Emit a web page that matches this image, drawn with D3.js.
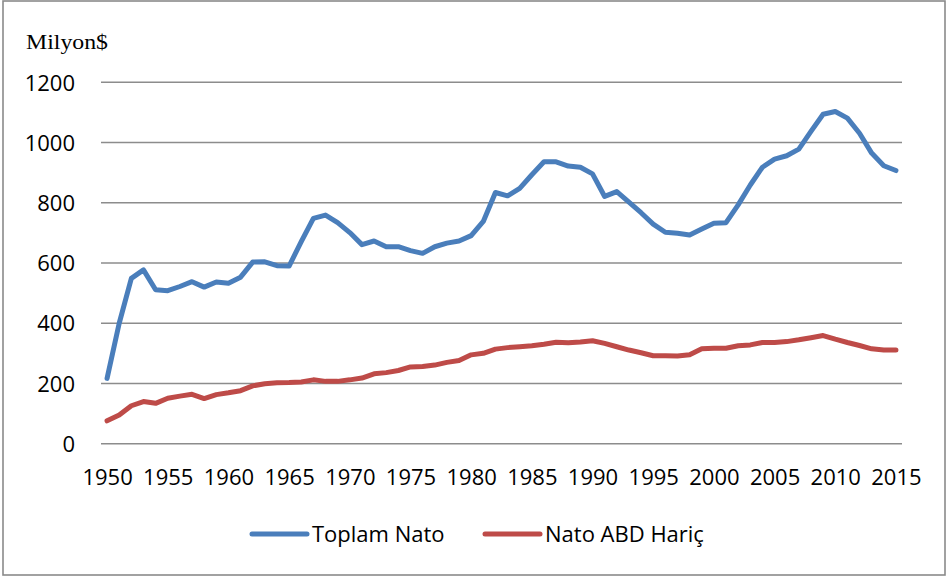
<!DOCTYPE html>
<html>
<head>
<meta charset="utf-8">
<script src="https://cdn.jsdelivr.net/npm/d3@7"></script>
<style>
  body { margin: 0; background: #fff; }
  svg { display: block; }
</style>
</head>
<body>
<svg id="chart" width="948" height="578"></svg>
<script>
// years on the category axis
var years = d3.range(1950, 2016);

// Toplam Nato
var toplamNato = [
  217, 400, 549, 577, 511, 508, 522, 538, 520, 537,
  533, 553, 603, 604, 591, 590, 671, 748, 759, 734,
  701, 661, 673, 654, 654, 641, 632, 654, 666, 673,
  691, 738, 834, 823, 848, 893, 936, 936, 922, 918,
  896, 821, 837, 802, 767, 729, 702, 699, 693, 713,
  732, 734, 793, 859, 918, 945, 956, 978, 1037, 1094,
  1103, 1081, 1031, 965, 923, 907
];

// Nato ABD Hariç
var natoAbdHaric = [
  76, 95, 126, 140, 134, 151, 158, 164, 150, 163,
  169, 176, 192, 199, 202, 203, 205, 212, 207, 207,
  212, 218, 232, 236, 243, 255, 256, 261, 270, 276,
  295, 300, 314, 319, 322, 325, 330, 337, 335, 338,
  342, 333, 322, 311, 302, 292, 292, 291, 295, 315,
  317, 317, 325, 328, 336, 336, 339, 345, 352, 359,
  347, 336, 326, 315, 311, 311
];

var yTicks = [0, 200, 400, 600, 800, 1000, 1200];
var xTickYears = years.filter(function(y) { return (y - 1950) % 5 === 0; });

var seriesNames = ['Toplam Nato', 'Nato ABD Hariç'];
var seriesColors = ['#4a7ebb', '#be4b48'];

var svg = d3.select('#chart');

// outer frame
svg.append('rect')
  .attr('x', 3).attr('y', 1)
  .attr('width', 942).attr('height', 574)
  .attr('fill', '#fff')
  .attr('stroke', '#8a8a8a')
  .attr('stroke-width', 1.6);

var plot = {l: 101, r: 902, t: 82.3, b: 443.7};

var xScale = d3.scalePoint()
  .domain(years)
  .range([plot.l, plot.r])
  .padding(0.5);

var yScale = d3.scaleLinear()
  .domain([0, 1200])
  .range([plot.b, plot.t]);

// gridlines
svg.append('g')
  .selectAll('line')
  .data(yTicks)
  .enter()
  .append('line')
  .attr('x1', plot.l)
  .attr('x2', plot.r)
  .attr('y1', d => yScale(d))
  .attr('y2', d => yScale(d))
  .attr('stroke', '#8c8c8c')
  .attr('stroke-width', 1.4);

// y axis labels
var yAxis = d3.axisLeft(yScale).tickValues(yTicks).tickFormat(d3.format('d')).tickSize(0).tickPadding(0);
var yAxisG = svg.append('g')
  .attr('transform', 'translate(75,0)')
  .call(yAxis);
yAxisG.select('.domain').remove();
yAxisG.selectAll('text')
  .attr('x', 0)
  .attr('dy', '0.35em')
  .style('font-family', '"Open Sans", "Liberation Sans", sans-serif')
  .style('font-size', '22px')
  .style('fill', '#000');

// x axis labels
var xAxis = d3.axisBottom(xScale).tickValues(xTickYears).tickSize(0).tickPadding(0);
var xAxisG = svg.append('g')
  .attr('transform', 'translate(0,' + plot.b + ')')
  .call(xAxis);
xAxisG.select('.domain').remove();
xAxisG.selectAll('text')
  .attr('y', 34)
  .attr('dy', '0.35em')
  .style('font-family', '"Open Sans", "Liberation Sans", sans-serif')
  .style('font-size', '22px')
  .style('fill', '#000');

// unit label
svg.append('text')
  .attr('x', 26)
  .attr('y', 48.5)
  .attr('textLength', 82)
  .attr('lengthAdjust', 'spacingAndGlyphs')
  .style('font-family', '"Liberation Serif", "Times New Roman", serif')
  .style('font-size', '20px')
  .style('fill', '#000')
  .text('Milyon$');

// lines
var line = d3.line()
  .x((d, i) => xScale(years[i]))
  .y(d => yScale(d));

[toplamNato, natoAbdHaric].forEach(function(values, i) {
  svg.append('path')
    .datum(values)
    .attr('d', line)
    .attr('fill', 'none')
    .attr('stroke', seriesColors[i])
    .attr('stroke-width', 5)
    .attr('stroke-linejoin', 'round')
    .attr('stroke-linecap', 'round');
});

// legend
var legendX = [252, 485];
var legend = svg.selectAll('.legend-item')
  .data(seriesNames)
  .enter()
  .append('g')
  .attr('class', 'legend-item')
  .attr('transform', (d, i) => 'translate(' + legendX[i] + ',534)');

legend.append('line')
  .attr('x1', 0).attr('x2', 55)
  .attr('y1', 0).attr('y2', 0)
  .attr('stroke', (d, i) => seriesColors[i])
  .attr('stroke-width', 5)
  .attr('stroke-linecap', 'round');

legend.append('text')
  .attr('x', 60)
  .attr('dy', '0.35em')
  .style('font-family', '"Open Sans", "Liberation Sans", sans-serif')
  .style('font-size', '22px')
  .style('fill', '#000')
  .text(d => d);
</script>
</body>
</html>
